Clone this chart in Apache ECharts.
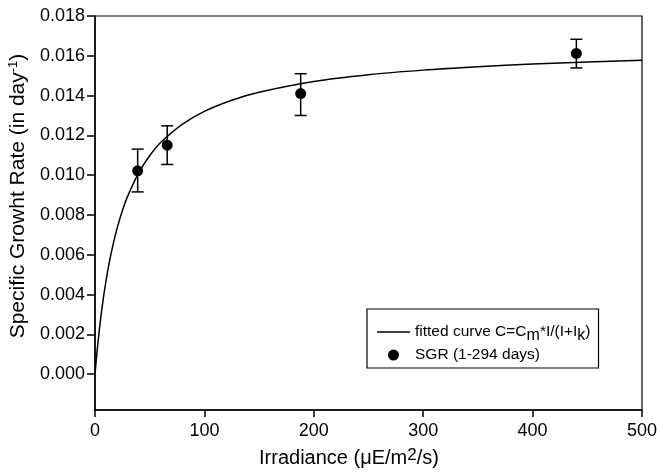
<!DOCTYPE html>
<html><head><meta charset="utf-8">
<script src="https://cdn.jsdelivr.net/npm/echarts@6/dist/echarts.min.js"></script>
<style>html,body{margin:0;padding:0;background:#fff}#c{width:657px;height:472px}</style>
</head><body><div id="c"></div>
<script>
// Measured points (SGR)
const sgrX = [39, 66, 188, 440];
const sgrY = [0.01022, 0.01151, 0.01410, 0.01612];
const errLow = [0.00916, 0.01054, 0.01300, 0.01539];
const errHigh = [0.01131, 0.01248, 0.01510, 0.01683];
// Fitted curve
const curveX = [0, 1, 2.5, 5, 7.5, 10, 12.5, 15, 20, 25, 30, 40, 50, 60, 80, 100, 125, 150, 200, 250, 300, 350, 400, 450, 500];
const curveY = [0, 0.00063, 0.00148, 0.00272, 0.00377, 0.00467, 0.00546, 0.00614, 0.00729, 0.00821, 0.00896, 0.01013, 0.01098, 0.01164, 0.01257, 0.01321, 0.01377, 0.01417, 0.01471, 0.01505, 0.01528, 0.01545, 0.01559, 0.01569, 0.01578];
const yTicks = [0, 0.002, 0.004, 0.006, 0.008, 0.010, 0.012, 0.014, 0.016, 0.018];
const xTicks = [0, 100, 200, 300, 400, 500];

const font = '"Liberation Sans", Arial, Helvetica, sans-serif';
const chart = echarts.init(document.getElementById('c'), null, {renderer: 'canvas'});
const curveData = curveX.map((x, i) => [x, curveY[i]]);
const sgrData = sgrX.map((x, i) => [x, sgrY[i]]);
const errData = sgrX.map((x, i) => [x, errLow[i], errHigh[i]]);

chart.setOption({
  animation: false,
  backgroundColor: '#fff',
  grid: {left: 95, right: 15, top: 16, bottom: 62, outerBoundsMode: 'none', containLabel: false,
    show: true, borderColor: '#000', borderWidth: 1.2, backgroundColor: 'transparent'},
  graphic: [
    {type: 'text', x: 18, y: 196, rotation: Math.PI / 2, z: 10,
      style: {text: '{a|Specific Growht Rate (in day}{sup|-1}{a|)}', align: 'center', verticalAlign: 'middle',
        rich: {a: {fontFamily: font, fontSize: 21, fill: '#000'},
               sup: {fontFamily: font, fontSize: 13, fill: '#000', padding: [0, 0, 9, 0]}}}},
    {type: 'text', x: 349, y: 458, z: 10,
      style: {text: '{a|Irradiance (\u03bcE/m}{sup|2}{a|/s)}', align: 'center', verticalAlign: 'middle',
        rich: {a: {fontFamily: font, fontSize: 20, fill: '#000'},
               sup: {fontFamily: font, fontSize: 17, fill: '#000', padding: [0, 0, 6, 0]}}}}
  ],
  legend: {
    left: 367, top: 309,
    orient: 'vertical',
    borderColor: '#000', borderWidth: 1.2,
    padding: [15, 8, 5, 10],
    itemGap: 3,
    itemWidth: 33, itemHeight: 11,
    textStyle: {fontFamily: font, fontSize: 15.5, color: '#000',
      rich: {
        a: {fontFamily: font, fontSize: 15.5, color: '#000'},
        s: {fontFamily: font, fontSize: 16, color: '#000', padding: [8, 0, 0, 0]}
      }},
    formatter: function (name) {
      if (name.indexOf('fitted') === 0) return '{a|fitted curve C=C}{s|m}{a|*I/(I+I}{s|k}{a|)}';
      return '{a|' + name + '}';
    },
    data: [
      {name: 'fitted curve', icon: 'path://M0,0 L33,0 L33,1.3 L0,1.3 Z', itemStyle: {color: '#000'}},
      {name: 'SGR (1-294 days)', icon: 'circle', itemStyle: {color: '#000', opacity: 1}}
    ]
  },
  xAxis: {
    type: 'value', min: 0, max: 500, interval: 100,
    axisLine: {show: true, onZero: false, lineStyle: {color: '#000', width: 1.5}},
    axisTick: {show: true, inside: false, length: 7, lineStyle: {color: '#000', width: 1.5}},
    axisLabel: {fontFamily: font, fontSize: 18, color: '#000', margin: 12},
    splitLine: {show: false}
  },
  yAxis: {
    type: 'value', min: -0.0018, max: 0.018,
    axisLine: {show: true, onZero: false, lineStyle: {color: '#000', width: 1.5}},
    axisTick: {show: true, inside: false, length: 8, customValues: yTicks, lineStyle: {color: '#000', width: 1.5}},
    axisLabel: {fontFamily: font, fontSize: 18, color: '#000', margin: 10, customValues: yTicks,
      formatter: v => v.toFixed(3)},
    splitLine: {show: false}
  },
  series: [
    {
      name: 'fitted curve', type: 'line', data: curveData, smooth: 0.3,
      symbol: 'none', lineStyle: {color: '#000', width: 1.5}, z: 2
    },
    {
      name: 'errbars', type: 'custom', data: errData, z: 3,
      renderItem: function (params, api) {
        const x = api.value(0);
        const lo = api.coord([x, api.value(1)]);
        const hi = api.coord([x, api.value(2)]);
        const w = 6;
        const st = {stroke: '#000', lineWidth: 1.5, fill: null};
        return {type: 'group', children: [
          {type: 'line', shape: {x1: lo[0], y1: lo[1], x2: hi[0], y2: hi[1]}, style: st},
          {type: 'line', shape: {x1: lo[0] - w, y1: lo[1], x2: lo[0] + w, y2: lo[1]}, style: st},
          {type: 'line', shape: {x1: hi[0] - w, y1: hi[1], x2: hi[0] + w, y2: hi[1]}, style: st}
        ]};
      }
    },
    {
      name: 'SGR (1-294 days)', type: 'scatter', data: sgrData, symbol: 'circle', symbolSize: 11,
      itemStyle: {color: '#000', opacity: 1}, z: 4
    }
  ]
});
</script></body></html>
